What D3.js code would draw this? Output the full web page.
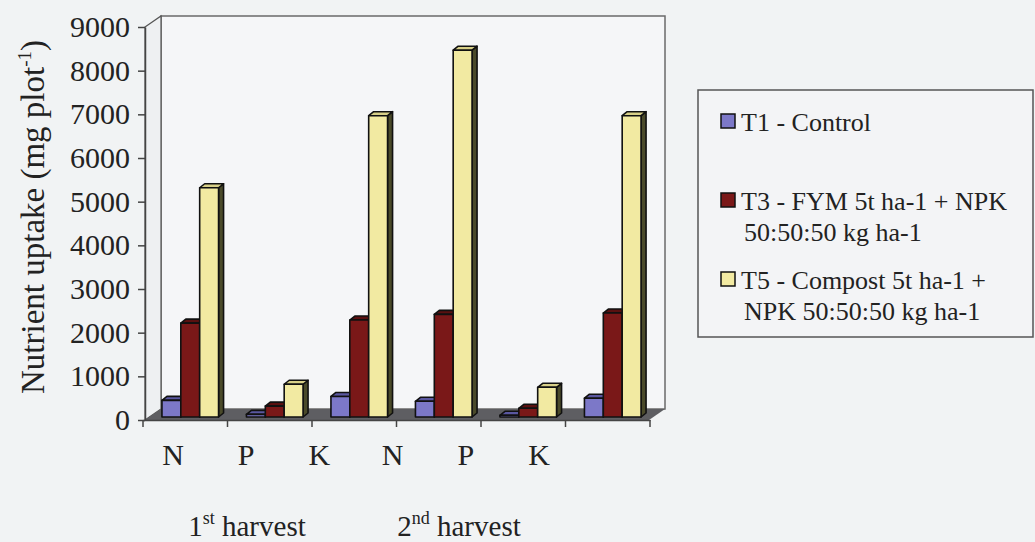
<!DOCTYPE html>
<html>
<head>
<meta charset="utf-8">
<script src="https://cdn.jsdelivr.net/npm/d3@7.9.0/dist/d3.min.js"></script>
<style>
  body { margin: 0; background: #f1f3f4; }
  svg { display: block; }
  svg text { font-family: "Liberation Serif", "Times New Roman", serif; }
</style>
</head>
<body>
<svg width="1035" height="542"></svg>
<script>
const categories = ['N1', 'P1', 'K1', 'N2', 'P2', 'K2'];
const tickLabels = ['N', 'P', 'K', 'N', 'P', 'K'];
const harvests = ['1st harvest', '2nd harvest'];
const series = ['T1', 'T3', 'T5'];
const t1Values = [380, 60, 470, 360, 40, 430];
const t3Values = [2150, 250, 2220, 2350, 200, 2380];
const t5Values = [5250, 750, 6900, 8400, 680, 6900];
const yTicks = [0, 1000, 2000, 3000, 4000, 5000, 6000, 7000, 8000, 9000];

const seriesValues = [t1Values, t3Values, t5Values];
const colors = {
    T1: { front: '#7c78c8', side: '#2a2850', top: '#5a57a0' },
    T3: { front: '#7a1818', side: '#380808', top: '#5a1010' },
    T5: { front: '#f2eaa2', side: '#4a4a2a', top: '#d8d088' }
};
const serif = '"Liberation Serif", "Times New Roman", serif';

const svg = d3.select('svg');

// front plane of the plot and wall depth
const plotLeft = 145, plotRight = 649, plotBottom = 420, plotTop = 27;
const wallDx = 16, wallDy = -11;
const barOx = 5, barOy = -3;    // bars sit a bit behind the front plane
const barDx = 5, barDy = -4;    // bar depth

const y = d3.scaleLinear().domain([0, 9000]).range([plotBottom, plotTop]);
const x0 = d3.scaleBand().domain(categories).range([143, 650])
    .paddingInner(0.33).paddingOuter(0.165);
const x1 = d3.scaleBand().domain(series).range([0, x0.bandwidth()]);

// back wall
svg.append('rect')
    .attr('x', plotLeft + wallDx).attr('y', plotTop + wallDy)
    .attr('width', plotRight - plotLeft).attr('height', plotBottom - plotTop)
    .attr('fill', '#f5f6f8').attr('stroke', '#6a6a6a').attr('stroke-width', 1.5);

// left side wall
svg.append('path')
    .attr('d', `M${plotLeft},${plotTop}L${plotLeft + wallDx},${plotTop + wallDy}L${plotLeft + wallDx},${plotBottom + wallDy}L${plotLeft},${plotBottom}Z`)
    .attr('fill', '#eef0f2').attr('stroke', '#555').attr('stroke-width', 1.2);

// floor
svg.append('path')
    .attr('d', `M${plotLeft},${plotBottom}L${plotLeft + wallDx},${plotBottom + wallDy}L${plotRight + wallDx},${plotBottom + wallDy}L${plotRight},${plotBottom}Z`)
    .attr('fill', '#5e5e62');

// bars
const bars = [];
categories.forEach((c, i) => {
    series.forEach((s, j) => {
        bars.push({ cat: c, s: s, v: seriesValues[j][i] });
    });
});

const barG = svg.append('g');
bars.forEach((d) => {
    const bx = x0(d.cat) + x1(d.s) + barOx;
    const bw = x1.bandwidth();
    const by = y(d.v) + barOy;
    const bb = plotBottom + barOy;
    const col = colors[d.s];
    const g = barG.append('g').attr('stroke', '#111').attr('stroke-width', 1.6).attr('stroke-linejoin', 'round');
    // side
    g.append('path')
        .attr('d', `M${bx + bw},${by}L${bx + bw + barDx},${by + barDy}L${bx + bw + barDx},${bb + barDy}L${bx + bw},${bb}Z`)
        .attr('fill', col.side);
    // top
    g.append('path')
        .attr('d', `M${bx},${by}L${bx + barDx},${by + barDy}L${bx + bw + barDx},${by + barDy}L${bx + bw},${by}Z`)
        .attr('fill', col.top);
    // front
    g.append('rect')
        .attr('x', bx).attr('y', by)
        .attr('width', bw).attr('height', Math.max(0, bb - by))
        .attr('fill', col.front);
});

// y axis
const yAxis = d3.axisLeft(y).tickValues(yTicks).tickFormat(d3.format('d')).tickSize(7).tickSizeOuter(0);
const yg = svg.append('g').attr('transform', `translate(${plotLeft},0)`).call(yAxis);
yg.attr('font-family', serif);
yg.select('.domain').attr('stroke', '#444').attr('stroke-width', 1.5);
yg.selectAll('.tick line').attr('stroke', '#444').attr('stroke-width', 1.5);
yg.selectAll('.tick text')
    .attr('x', -15)
    .attr('font-size', 30).attr('fill', '#222');

// x axis
const xAxis = d3.axisBottom(x0.copy().paddingInner(0).paddingOuter(0)).tickSize(0).tickFormat('');
const xg = svg.append('g').attr('transform', `translate(0,${plotBottom})`).call(xAxis);
xg.select('.domain').attr('stroke', '#444').attr('stroke-width', 1.5);
const edges = d3.range(categories.length + 1).map((k) => 143 + k * x0.step());
xg.selectAll('.edge').data(edges).join('line')
    .attr('x1', (d) => d).attr('x2', (d) => d)
    .attr('y1', 0).attr('y2', 7)
    .attr('stroke', '#444').attr('stroke-width', 1.5);

// category labels
const xl = d3.scalePoint().domain(d3.range(tickLabels.length)).range([173, 539]);
svg.append('g').selectAll('text').data(tickLabels).join('text')
    .attr('x', (d, i) => xl(i)).attr('y', 465)
    .attr('text-anchor', 'middle').attr('font-size', 30).attr('fill', '#222')
    .attr('font-family', serif)
    .text((d) => d);

// harvest labels
const hx = [247, 459];
harvests.forEach((h, i) => {
    const num = h.match(/^\d+/)[0];
    const suf = h.slice(num.length, num.length + 2);
    const rest = h.slice(num.length + 2);
    const t = svg.append('text').attr('x', hx[i]).attr('y', 536)
        .attr('text-anchor', 'middle').attr('font-size', 29).attr('fill', '#222')
        .attr('font-family', serif);
    t.append('tspan').text(num);
    t.append('tspan').attr('dy', -12).attr('font-size', 18).text(suf);
    t.append('tspan').attr('dy', 12).text(' ' + rest.trim());
});

// y axis title
const yt = svg.append('text')
    .attr('transform', 'translate(44,217) rotate(-90)')
    .attr('text-anchor', 'middle').attr('font-size', 33).attr('fill', '#222')
    .attr('font-family', serif);
yt.append('tspan').text('Nutrient uptake (mg plot');
yt.append('tspan').attr('dy', -13).attr('font-size', 19).text('-1');
yt.append('tspan').attr('dy', 13).text(')');

// legend
const legendItems = [
    { s: 'T1', lines: ['T1 - Control'], y: 131 },
    { s: 'T3', lines: ['T3 - FYM 5t ha-1 + NPK', '50:50:50 kg ha-1'], y: 210 },
    { s: 'T5', lines: ['T5 - Compost 5t ha-1 +', 'NPK 50:50:50 kg ha-1'], y: 289 }
];
const lg = svg.append('g');
lg.append('rect').attr('x', 698).attr('y', 90).attr('width', 335).attr('height', 247)
    .attr('fill', '#f3f4f6').attr('stroke', '#555').attr('stroke-width', 1.5);
legendItems.forEach((d) => {
    lg.append('rect').attr('x', 721).attr('y', d.y - 17).attr('width', 14).attr('height', 14)
        .attr('fill', colors[d.s].front).attr('stroke', '#111').attr('stroke-width', 1.5);
    const t = lg.append('text').attr('x', 741).attr('y', d.y)
        .attr('font-size', 26).attr('fill', '#222').attr('font-family', serif);
    d.lines.forEach((l, k) => {
        t.append('tspan').attr('x', k === 0 ? 741 : 744).attr('dy', k === 0 ? 0 : 31).text(l);
    });
});
</script>
</body>
</html>
